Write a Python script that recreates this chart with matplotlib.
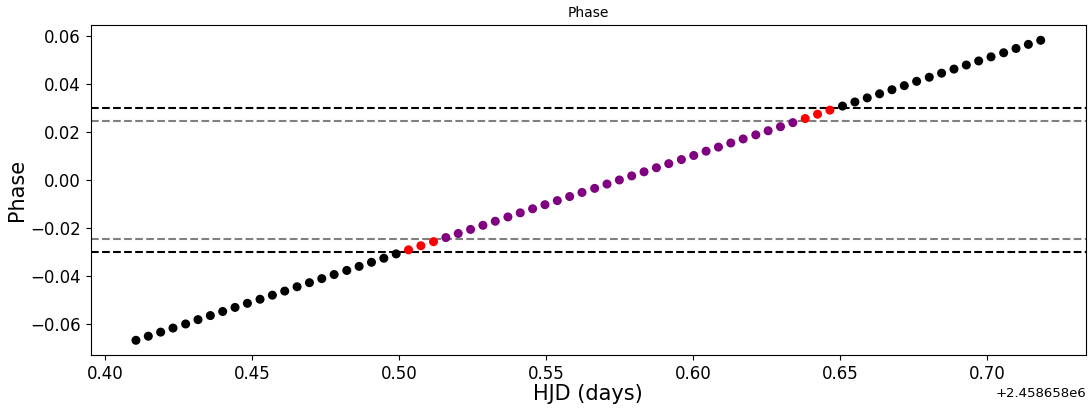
import numpy as np
import matplotlib
matplotlib.use("Agg")
import matplotlib.pyplot as plt

# Tiempos de observacion (HJD) y fase calculada
hjd = [2458658.4104, 2458658.4146, 2458658.4188, 2458658.4230, 2458658.4273,
       2458658.4315, 2458658.4357, 2458658.4399, 2458658.4441, 2458658.4483,
       2458658.4526, 2458658.4568, 2458658.4610, 2458658.4652, 2458658.4694,
       2458658.4736, 2458658.4778, 2458658.4821, 2458658.4863, 2458658.4905,
       2458658.4947, 2458658.4989, 2458658.5031, 2458658.5073, 2458658.5116,
       2458658.5158, 2458658.5200, 2458658.5242, 2458658.5284, 2458658.5326,
       2458658.5369, 2458658.5411, 2458658.5453, 2458658.5495, 2458658.5537,
       2458658.5579, 2458658.5621, 2458658.5664, 2458658.5706, 2458658.5748,
       2458658.5790, 2458658.5832, 2458658.5874, 2458658.5916, 2458658.5959,
       2458658.6001, 2458658.6043, 2458658.6085, 2458658.6127, 2458658.6169,
       2458658.6212, 2458658.6254, 2458658.6296, 2458658.6338, 2458658.6380,
       2458658.6422, 2458658.6464, 2458658.6507, 2458658.6549, 2458658.6591,
       2458658.6633, 2458658.6675, 2458658.6717, 2458658.6759, 2458658.6802,
       2458658.6844, 2458658.6886, 2458658.6928, 2458658.6970, 2458658.7012,
       2458658.7055, 2458658.7097, 2458658.7139, 2458658.7181]

fase = [-0.0668, -0.0651, -0.0634, -0.0617, -0.0600, -0.0582, -0.0565, -0.0548,
        -0.0531, -0.0514, -0.0497, -0.0480, -0.0463, -0.0445, -0.0428, -0.0411,
        -0.0394, -0.0377, -0.0360, -0.0343, -0.0326, -0.0308, -0.0291, -0.0274,
        -0.0257, -0.0240, -0.0223, -0.0206, -0.0189, -0.0172, -0.0154, -0.0137,
        -0.0120, -0.0103, -0.0086, -0.0069, -0.0052, -0.0035, -0.0017, 0.0000,
        0.0017, 0.0034, 0.0051, 0.0068, 0.0085, 0.0102, 0.0120, 0.0137,
        0.0154, 0.0171, 0.0188, 0.0205, 0.0222, 0.0239, 0.0256, 0.0274,
        0.0291, 0.0308, 0.0325, 0.0342, 0.0359, 0.0376, 0.0393, 0.0411,
        0.0428, 0.0445, 0.0462, 0.0479, 0.0496, 0.0513, 0.0530, 0.0548,
        0.0565, 0.0582]

# Limites de fase del transito (externo e interno)
lim_ext = 0.0300
lim_int = 0.0244

x = np.array(hjd)
y = np.array(fase)

# Color segun la region: fuera, ingreso/egreso, dentro
colores = np.where(np.abs(y) > lim_ext, 'black',
                   np.where(np.abs(y) > lim_int, 'red', 'purple'))

fig = plt.figure(figsize=(10.89, 4.08), dpi=100)
ax = fig.add_axes([0.0833, 0.1292, 0.9139, 0.8088])

ax.scatter(x, y, c=list(colores), s=30, zorder=3)
ax.axhline(lim_ext, color='black', linestyle='--', linewidth=1.5)
ax.axhline(-lim_ext, color='black', linestyle='--', linewidth=1.5)
ax.axhline(lim_int, color='gray', linestyle='--', linewidth=1.5)
ax.axhline(-lim_int, color='gray', linestyle='--', linewidth=1.5)

ax.set_title('Phase', fontsize=10)
ax.set_xlabel('HJD (days)', fontsize=15, labelpad=1)
ax.set_ylabel('Phase', fontsize=15, labelpad=2)
ax.tick_params(labelsize=12)
ax.xaxis.get_offset_text().set_fontsize(9.5)

plt.savefig('out.png', dpi=100)
